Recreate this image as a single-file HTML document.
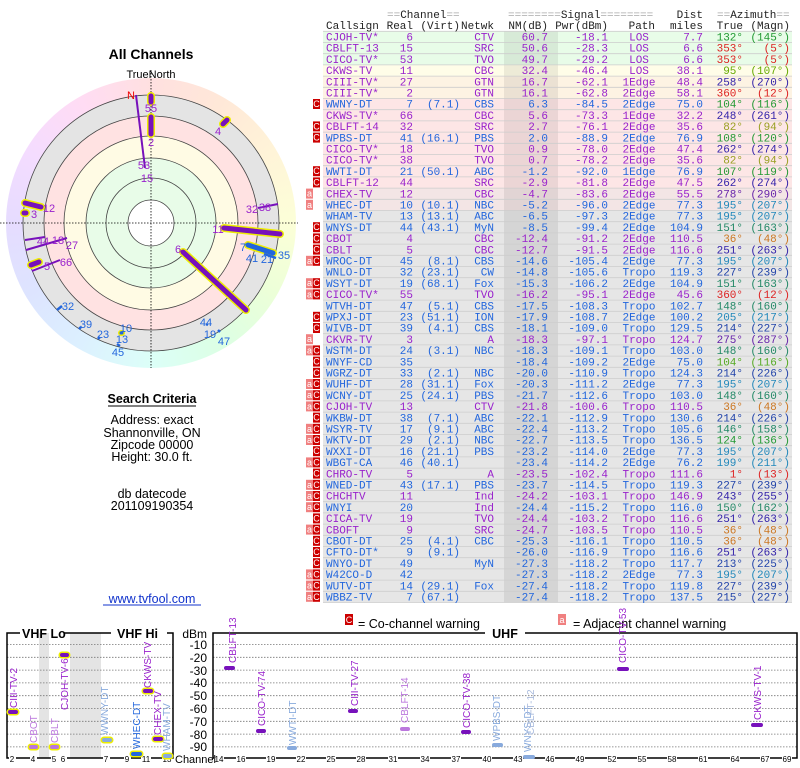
<!DOCTYPE html>
<html><head><meta charset="utf-8"><style>
html,body{margin:0;padding:0;background:#fff;width:800px;height:768px;overflow:hidden}
#ring{position:absolute;left:6px;top:78px;width:290px;height:290px;border-radius:50%;
background:conic-gradient(#ffe0e0 0deg,#ffe8d8 30deg,#fff4d8 60deg,#fcffd8 90deg,#ecffd8 120deg,#dcffe4 150deg,#dcfff8 180deg,#dcf0ff 210deg,#dde4ff 240deg,#e6dcff 270deg,#f4dcff 300deg,#ffdcf4 330deg,#ffe0e0 360deg)}
svg{position:absolute;left:0;top:0}
.t{font-family:"Liberation Mono",monospace;font-size:11px}
.e{text-anchor:end}.m{text-anchor:middle}
.p{fill:#9922cc}.b{fill:#2266dd}
.g{fill:#229933}.r{fill:#dd2222}.o{fill:#66aa00}.ol{fill:#99a022}.v{fill:#3322aa}.vp{fill:#6622aa}.bl{fill:#2288bb}.tg{fill:#228866}.or{fill:#cc7722}.db{fill:#2244aa}.lg{fill:#55aa22}
.s{font-family:"Liberation Sans",sans-serif}
.bd{fill:#fff;font-family:"Liberation Sans",sans-serif;font-size:9px;text-anchor:middle}
.vl{font-family:"Liberation Sans",sans-serif;font-size:10px}
</style></head><body>
<div id="ring"></div>
<svg width="800" height="768" viewBox="0 0 800 768">
<!-- polar -->
<circle cx="151" cy="223" r="128" fill="#e4e4e4"/>
<circle cx="151" cy="223" r="107" fill="#ffe2e2"/>
<circle cx="151" cy="223" r="87" fill="#fffbe4"/>
<circle cx="151" cy="223" r="65" fill="#e8fce8"/>
<circle cx="151" cy="223" r="23" fill="#fff"/>
<g fill="none" stroke="#444" stroke-width="0.8">
<circle cx="151" cy="223" r="23"/><circle cx="151" cy="223" r="45"/><circle cx="151" cy="223" r="65"/><circle cx="151" cy="223" r="87"/><circle cx="151" cy="223" r="107"/><circle cx="151" cy="223" r="128"/>
</g>
<line x1="0" y1="223" x2="298" y2="223" stroke="#000" stroke-width="0.8" stroke-dasharray="1.5,1.5"/>
<line x1="151" y1="70" x2="151" y2="368" stroke="#000" stroke-width="0.8" stroke-dasharray="1.5,1.5"/>
<text x="151" y="78" class="s m" font-size="11">TrueNorth</text>
<text x="151" y="59" class="s m" font-size="14" font-weight="bold">All Channels</text>
<g stroke-linecap="round">
<line x1="183" y1="252" x2="246" y2="310" stroke="#ee0" stroke-width="8"/><line x1="183" y1="252" x2="246" y2="310" stroke="#7711bb" stroke-width="5"/>
<line x1="224" y1="228" x2="280" y2="234" stroke="#ee0" stroke-width="8"/><line x1="224" y1="228" x2="280" y2="234" stroke="#7711bb" stroke-width="5"/>
<line x1="151" y1="96" x2="151" y2="102" stroke="#ee0" stroke-width="8"/><line x1="151" y1="96" x2="151" y2="102" stroke="#7711bb" stroke-width="5"/>
<line x1="151" y1="117" x2="151" y2="134" stroke="#ee0" stroke-width="8"/><line x1="151" y1="117" x2="151" y2="134" stroke="#7711bb" stroke-width="5"/>
<line x1="223" y1="124" x2="227" y2="120" stroke="#ee0" stroke-width="8"/><line x1="223" y1="124" x2="227" y2="120" stroke="#7711bb" stroke-width="5"/>
<line x1="25" y1="203" x2="41" y2="207" stroke="#ee0" stroke-width="8"/><line x1="25" y1="203" x2="41" y2="207" stroke="#7711bb" stroke-width="5"/>
<line x1="24" y1="213" x2="26" y2="213" stroke="#ee0" stroke-width="8"/><line x1="24" y1="213" x2="26" y2="213" stroke="#7711bb" stroke-width="5"/>
<line x1="31" y1="265" x2="39" y2="262" stroke="#ee0" stroke-width="8"/><line x1="31" y1="265" x2="39" y2="262" stroke="#7711bb" stroke-width="5"/>
<line x1="248" y1="245" x2="273" y2="253" stroke="#ee0" stroke-width="8"/><line x1="248" y1="245" x2="273" y2="253" stroke="#2266dd" stroke-width="5"/>
<line x1="121" y1="333" x2="122" y2="333" stroke="#ee0" stroke-width="6"/><line x1="121" y1="333" x2="122" y2="333" stroke="#2266dd" stroke-width="3"/>
</g>
<g stroke="#7711bb" stroke-width="2">
<line x1="136" y1="95" x2="145" y2="168"/>
<line x1="258" y1="208" x2="278" y2="204"/>
<line x1="25" y1="240" x2="45" y2="237"/>
<line x1="26" y1="250" x2="67" y2="238"/>
<line x1="32" y1="271" x2="60" y2="260"/>
</g>
<g stroke="#2266dd" stroke-width="2.5">
<line x1="57" y1="310" x2="62" y2="306"/><line x1="79" y1="329" x2="81" y2="327"/><line x1="98" y1="339" x2="100" y2="337"/>
<line x1="117" y1="344" x2="120" y2="346"/><line x1="206" y1="324" x2="208" y2="325"/><line x1="218" y1="330" x2="220" y2="332"/>
<line x1="264" y1="254" x2="276" y2="258"/>
</g>
<g class="s" font-size="11">
<text x="127" y="99" fill="#e00">N</text>
<g class="p m"><text x="151" y="112">55</text><text x="151" y="146">2</text><text x="144" y="169">53</text><text x="147" y="182">15</text><text x="218" y="135">4</text>
<text x="49" y="212">12</text><text x="34" y="218">3</text><text x="252" y="213">32</text><text x="265" y="211">38</text><text x="218" y="233">11</text><text x="178" y="253">6</text>
<text x="43" y="245">44</text><text x="58" y="244">18</text><text x="72" y="249">27</text><text x="47" y="270">5</text><text x="66" y="266">66</text></g>
<g class="b m"><text x="243" y="251">7</text><text x="252" y="262">41</text><text x="267" y="263">21</text><text x="284" y="259">35</text>
<text x="68" y="310">32</text><text x="86" y="328">39</text><text x="103" y="338">23</text><text x="126" y="332">10</text><text x="122" y="343">13</text><text x="118" y="356">45</text>
<text x="206" y="326">44</text><text x="210" y="338">19</text><text x="224" y="345">47</text></g>
</g>
<!-- search criteria -->
<g class="s m" font-size="12.5">
<text x="152" y="403" font-weight="bold">Search Criteria</text>
<line x1="108" y1="406" x2="196" y2="406" stroke="#000" stroke-width="1"/>
<text x="152" y="424">Address: exact</text><text x="152" y="437">Shannonville, ON</text><text x="152" y="449">Zipcode 00000</text><text x="152" y="461">Height: 30.0 ft.</text>
<text x="152" y="498">db datecode</text><text x="152" y="510">201109190354</text>
<text x="152" y="603" fill="#1133cc">www.tvfool.com</text>
<line x1="103" y1="605" x2="201" y2="605" stroke="#1133cc" stroke-width="1"/>
</g>
<!-- table backgrounds -->
<rect x="323" y="31.3" width="469" height="33.6" fill="#e8fce8"/>
<rect x="323" y="64.9" width="469" height="11.2" fill="#fffde8"/>
<rect x="323" y="76.1" width="469" height="22.4" fill="#fdf3e3"/>
<rect x="323" y="98.5" width="469" height="89.6" fill="#fde6e6"/>
<rect x="323" y="188.1" width="469" height="22.4" fill="#f3e5e5"/>
<rect x="323" y="210.5" width="469" height="392" fill="#e6e6e6"/>
<rect x="504" y="31.3" width="54" height="571.2" fill="#000" fill-opacity="0.07"/>
<g stroke="#cdcdcd" stroke-width="0.8">
<line x1="323" x2="792" y1="31.3" y2="31.3"/><line x1="323" x2="792" y1="42.5" y2="42.5"/><line x1="323" x2="792" y1="53.7" y2="53.7"/><line x1="323" x2="792" y1="64.9" y2="64.9"/><line x1="323" x2="792" y1="76.1" y2="76.1"/><line x1="323" x2="792" y1="87.3" y2="87.3"/><line x1="323" x2="792" y1="98.5" y2="98.5"/><line x1="323" x2="792" y1="109.7" y2="109.7"/><line x1="323" x2="792" y1="120.9" y2="120.9"/><line x1="323" x2="792" y1="132.1" y2="132.1"/><line x1="323" x2="792" y1="143.3" y2="143.3"/><line x1="323" x2="792" y1="154.5" y2="154.5"/><line x1="323" x2="792" y1="165.7" y2="165.7"/><line x1="323" x2="792" y1="176.9" y2="176.9"/><line x1="323" x2="792" y1="188.1" y2="188.1"/><line x1="323" x2="792" y1="199.3" y2="199.3"/><line x1="323" x2="792" y1="210.5" y2="210.5"/><line x1="323" x2="792" y1="221.7" y2="221.7"/><line x1="323" x2="792" y1="232.9" y2="232.9"/><line x1="323" x2="792" y1="244.1" y2="244.1"/><line x1="323" x2="792" y1="255.3" y2="255.3"/><line x1="323" x2="792" y1="266.5" y2="266.5"/><line x1="323" x2="792" y1="277.7" y2="277.7"/><line x1="323" x2="792" y1="288.9" y2="288.9"/><line x1="323" x2="792" y1="300.1" y2="300.1"/><line x1="323" x2="792" y1="311.3" y2="311.3"/><line x1="323" x2="792" y1="322.5" y2="322.5"/><line x1="323" x2="792" y1="333.7" y2="333.7"/><line x1="323" x2="792" y1="344.9" y2="344.9"/><line x1="323" x2="792" y1="356.1" y2="356.1"/><line x1="323" x2="792" y1="367.3" y2="367.3"/><line x1="323" x2="792" y1="378.5" y2="378.5"/><line x1="323" x2="792" y1="389.7" y2="389.7"/><line x1="323" x2="792" y1="400.9" y2="400.9"/><line x1="323" x2="792" y1="412.1" y2="412.1"/><line x1="323" x2="792" y1="423.3" y2="423.3"/><line x1="323" x2="792" y1="434.5" y2="434.5"/><line x1="323" x2="792" y1="445.7" y2="445.7"/><line x1="323" x2="792" y1="456.9" y2="456.9"/><line x1="323" x2="792" y1="468.1" y2="468.1"/><line x1="323" x2="792" y1="479.3" y2="479.3"/><line x1="323" x2="792" y1="490.5" y2="490.5"/><line x1="323" x2="792" y1="501.7" y2="501.7"/><line x1="323" x2="792" y1="512.9" y2="512.9"/><line x1="323" x2="792" y1="524.1" y2="524.1"/><line x1="323" x2="792" y1="535.3" y2="535.3"/><line x1="323" x2="792" y1="546.5" y2="546.5"/><line x1="323" x2="792" y1="557.7" y2="557.7"/><line x1="323" x2="792" y1="568.9" y2="568.9"/><line x1="323" x2="792" y1="580.1" y2="580.1"/><line x1="323" x2="792" y1="591.3" y2="591.3"/><line x1="323" x2="792" y1="602.5" y2="602.5"/>
</g>
<!-- badges -->
<g fill="#cc0000">
<rect x="313" y="99" width="7" height="10"/><rect x="313" y="121.4" width="7" height="10"/><rect x="313" y="132.6" width="7" height="10"/><rect x="313" y="166.2" width="7" height="10"/><rect x="313" y="177.4" width="7" height="10"/>
<rect x="313" y="222.2" width="7" height="10"/><rect x="313" y="233.4" width="7" height="10"/><rect x="313" y="244.6" width="7" height="10"/><rect x="313" y="255.8" width="7" height="10"/>
<rect x="313" y="278.2" width="7" height="10"/><rect x="313" y="289.4" width="7" height="10"/><rect x="313" y="311.8" width="7" height="10"/><rect x="313" y="323" width="7" height="10"/>
<rect x="313" y="345.4" width="7" height="10"/><rect x="313" y="356.6" width="7" height="10"/><rect x="313" y="367.8" width="7" height="10"/><rect x="313" y="379" width="7" height="10"/><rect x="313" y="390.2" width="7" height="10"/><rect x="313" y="401.4" width="7" height="10"/><rect x="313" y="412.6" width="7" height="10"/><rect x="313" y="423.8" width="7" height="10"/><rect x="313" y="435" width="7" height="10"/><rect x="313" y="446.2" width="7" height="10"/><rect x="313" y="457.4" width="7" height="10"/><rect x="313" y="468.6" width="7" height="10"/><rect x="313" y="479.8" width="7" height="10"/><rect x="313" y="491" width="7" height="10"/><rect x="313" y="502.2" width="7" height="10"/><rect x="313" y="513.4" width="7" height="10"/><rect x="313" y="524.6" width="7" height="10"/><rect x="313" y="535.8" width="7" height="10"/><rect x="313" y="547" width="7" height="10"/><rect x="313" y="558.2" width="7" height="10"/><rect x="313" y="569.4" width="7" height="10"/><rect x="313" y="580.6" width="7" height="10"/><rect x="313" y="591.8" width="7" height="10"/>
</g>
<g fill="#f08080">
<rect x="306" y="188.6" width="7" height="10"/><rect x="306" y="199.8" width="7" height="10"/><rect x="306" y="255.8" width="7" height="10"/><rect x="306" y="278.2" width="7" height="10"/><rect x="306" y="289.4" width="7" height="10"/><rect x="306" y="334.2" width="7" height="10"/><rect x="306" y="345.4" width="7" height="10"/><rect x="306" y="379" width="7" height="10"/><rect x="306" y="390.2" width="7" height="10"/><rect x="306" y="401.4" width="7" height="10"/><rect x="306" y="423.8" width="7" height="10"/><rect x="306" y="435" width="7" height="10"/><rect x="306" y="457.4" width="7" height="10"/><rect x="306" y="479.8" width="7" height="10"/><rect x="306" y="491" width="7" height="10"/><rect x="306" y="502.2" width="7" height="10"/><rect x="306" y="524.6" width="7" height="10"/><rect x="306" y="580.6" width="7" height="10"/><rect x="306" y="591.8" width="7" height="10"/>
<rect x="306" y="569.4" width="7" height="10"/>
</g>
<!-- header -->
<g class="t" fill="#222">
<text x="387" y="18"><tspan fill="#aaa">==</tspan>Channel<tspan fill="#aaa">==</tspan></text>
<text x="508" y="18"><tspan fill="#aaa">========</tspan>Signal<tspan fill="#aaa">========</tspan></text>
<text x="703" y="18" class="e">Dist</text>
<text x="717" y="18"><tspan fill="#aaa">==</tspan>Azimuth<tspan fill="#aaa">==</tspan></text>
<text x="326" y="29">Callsign</text><text x="413" y="29" class="e">Real</text><text x="460" y="29" class="e">(Virt)</text><text x="494" y="29" class="e">Netwk</text><text x="548" y="29" class="e">NM(dB)</text><text x="608" y="29" class="e">Pwr(dBm)</text><text x="655" y="29" class="e">Path</text><text x="703" y="29" class="e">miles</text><text x="743" y="29" class="e">True</text><text x="790" y="29" class="e">(Magn)</text>
</g>
<!-- rows -->
<g class="t">
<g class="p"><text x="326" y="40.5">CJOH-TV*</text><text x="413" y="40.5" class="e">6</text><text x="494" y="40.5" class="e">CTV</text><text x="548" y="40.5" class="e">60.7</text><text x="608" y="40.5" class="e">-18.1</text><text x="639" y="40.5" class="m">LOS</text><text x="703" y="40.5" class="e">7.7</text></g><text x="743" y="40.5" class="e g">132°</text><text x="790" y="40.5" class="e g">(145°)</text>
<g class="p"><text x="326" y="51.7">CBLFT-13</text><text x="413" y="51.7" class="e">15</text><text x="494" y="51.7" class="e">SRC</text><text x="548" y="51.7" class="e">50.6</text><text x="608" y="51.7" class="e">-28.3</text><text x="639" y="51.7" class="m">LOS</text><text x="703" y="51.7" class="e">6.6</text></g><text x="743" y="51.7" class="e r">353°</text><text x="790" y="51.7" class="e r">(5°)</text>
<g class="p"><text x="326" y="62.9">CICO-TV*</text><text x="413" y="62.9" class="e">53</text><text x="494" y="62.9" class="e">TVO</text><text x="548" y="62.9" class="e">49.7</text><text x="608" y="62.9" class="e">-29.2</text><text x="639" y="62.9" class="m">LOS</text><text x="703" y="62.9" class="e">6.6</text></g><text x="743" y="62.9" class="e r">353°</text><text x="790" y="62.9" class="e r">(5°)</text>
<g class="p"><text x="326" y="74.1">CKWS-TV</text><text x="413" y="74.1" class="e">11</text><text x="494" y="74.1" class="e">CBC</text><text x="548" y="74.1" class="e">32.4</text><text x="608" y="74.1" class="e">-46.4</text><text x="639" y="74.1" class="m">LOS</text><text x="703" y="74.1" class="e">38.1</text></g><text x="743" y="74.1" class="e o">95°</text><text x="790" y="74.1" class="e o">(107°)</text>
<g class="p"><text x="326" y="85.3">CIII-TV*</text><text x="413" y="85.3" class="e">27</text><text x="494" y="85.3" class="e">GTN</text><text x="548" y="85.3" class="e">16.7</text><text x="608" y="85.3" class="e">-62.1</text><text x="639" y="85.3" class="m">1Edge</text><text x="703" y="85.3" class="e">48.4</text></g><text x="743" y="85.3" class="e v">258°</text><text x="790" y="85.3" class="e v">(270°)</text>
<g class="p"><text x="326" y="96.5">CIII-TV*</text><text x="413" y="96.5" class="e">2</text><text x="494" y="96.5" class="e">GTN</text><text x="548" y="96.5" class="e">16.1</text><text x="608" y="96.5" class="e">-62.8</text><text x="639" y="96.5" class="m">2Edge</text><text x="703" y="96.5" class="e">58.1</text></g><text x="743" y="96.5" class="e r">360°</text><text x="790" y="96.5" class="e r">(12°)</text>
<g class="b"><text x="326" y="107.7">WWNY-DT</text><text x="413" y="107.7" class="e">7</text><text x="460" y="107.7" class="e">(7.1)</text><text x="494" y="107.7" class="e">CBS</text><text x="548" y="107.7" class="e">6.3</text><text x="608" y="107.7" class="e">-84.5</text><text x="639" y="107.7" class="m">2Edge</text><text x="703" y="107.7" class="e">75.0</text></g><text x="743" y="107.7" class="e g">104°</text><text x="790" y="107.7" class="e g">(116°)</text>
<g class="p"><text x="326" y="118.9">CKWS-TV*</text><text x="413" y="118.9" class="e">66</text><text x="494" y="118.9" class="e">CBC</text><text x="548" y="118.9" class="e">5.6</text><text x="608" y="118.9" class="e">-73.3</text><text x="639" y="118.9" class="m">1Edge</text><text x="703" y="118.9" class="e">32.2</text></g><text x="743" y="118.9" class="e v">248°</text><text x="790" y="118.9" class="e v">(261°)</text>
<g class="p"><text x="326" y="130.1">CBLFT-14</text><text x="413" y="130.1" class="e">32</text><text x="494" y="130.1" class="e">SRC</text><text x="548" y="130.1" class="e">2.7</text><text x="608" y="130.1" class="e">-76.1</text><text x="639" y="130.1" class="m">2Edge</text><text x="703" y="130.1" class="e">35.6</text></g><text x="743" y="130.1" class="e ol">82°</text><text x="790" y="130.1" class="e ol">(94°)</text>
<g class="b"><text x="326" y="141.3">WPBS-DT</text><text x="413" y="141.3" class="e">41</text><text x="460" y="141.3" class="e">(16.1)</text><text x="494" y="141.3" class="e">PBS</text><text x="548" y="141.3" class="e">2.0</text><text x="608" y="141.3" class="e">-88.9</text><text x="639" y="141.3" class="m">2Edge</text><text x="703" y="141.3" class="e">76.9</text></g><text x="743" y="141.3" class="e g">108°</text><text x="790" y="141.3" class="e g">(120°)</text>
<g class="p"><text x="326" y="152.5">CICO-TV*</text><text x="413" y="152.5" class="e">18</text><text x="494" y="152.5" class="e">TVO</text><text x="548" y="152.5" class="e">0.9</text><text x="608" y="152.5" class="e">-78.0</text><text x="639" y="152.5" class="m">2Edge</text><text x="703" y="152.5" class="e">47.4</text></g><text x="743" y="152.5" class="e v">262°</text><text x="790" y="152.5" class="e v">(274°)</text>
<g class="p"><text x="326" y="163.7">CICO-TV*</text><text x="413" y="163.7" class="e">38</text><text x="494" y="163.7" class="e">TVO</text><text x="548" y="163.7" class="e">0.7</text><text x="608" y="163.7" class="e">-78.2</text><text x="639" y="163.7" class="m">2Edge</text><text x="703" y="163.7" class="e">35.6</text></g><text x="743" y="163.7" class="e ol">82°</text><text x="790" y="163.7" class="e ol">(94°)</text>
<g class="b"><text x="326" y="174.9">WWTI-DT</text><text x="413" y="174.9" class="e">21</text><text x="460" y="174.9" class="e">(50.1)</text><text x="494" y="174.9" class="e">ABC</text><text x="548" y="174.9" class="e">-1.2</text><text x="608" y="174.9" class="e">-92.0</text><text x="639" y="174.9" class="m">1Edge</text><text x="703" y="174.9" class="e">76.9</text></g><text x="743" y="174.9" class="e g">107°</text><text x="790" y="174.9" class="e g">(119°)</text>
<g class="p"><text x="326" y="186.1">CBLFT-12</text><text x="413" y="186.1" class="e">44</text><text x="494" y="186.1" class="e">SRC</text><text x="548" y="186.1" class="e">-2.9</text><text x="608" y="186.1" class="e">-81.8</text><text x="639" y="186.1" class="m">2Edge</text><text x="703" y="186.1" class="e">47.5</text></g><text x="743" y="186.1" class="e v">262°</text><text x="790" y="186.1" class="e v">(274°)</text>
<g class="p"><text x="326" y="197.3">CHEX-TV</text><text x="413" y="197.3" class="e">12</text><text x="494" y="197.3" class="e">CBC</text><text x="548" y="197.3" class="e">-4.7</text><text x="608" y="197.3" class="e">-83.6</text><text x="639" y="197.3" class="m">2Edge</text><text x="703" y="197.3" class="e">55.5</text></g><text x="743" y="197.3" class="e vp">278°</text><text x="790" y="197.3" class="e vp">(290°)</text>
<g class="b"><text x="326" y="208.5">WHEC-DT</text><text x="413" y="208.5" class="e">10</text><text x="460" y="208.5" class="e">(10.1)</text><text x="494" y="208.5" class="e">NBC</text><text x="548" y="208.5" class="e">-5.2</text><text x="608" y="208.5" class="e">-96.0</text><text x="639" y="208.5" class="m">2Edge</text><text x="703" y="208.5" class="e">77.3</text></g><text x="743" y="208.5" class="e bl">195°</text><text x="790" y="208.5" class="e bl">(207°)</text>
<g class="b"><text x="326" y="219.7">WHAM-TV</text><text x="413" y="219.7" class="e">13</text><text x="460" y="219.7" class="e">(13.1)</text><text x="494" y="219.7" class="e">ABC</text><text x="548" y="219.7" class="e">-6.5</text><text x="608" y="219.7" class="e">-97.3</text><text x="639" y="219.7" class="m">2Edge</text><text x="703" y="219.7" class="e">77.3</text></g><text x="743" y="219.7" class="e bl">195°</text><text x="790" y="219.7" class="e bl">(207°)</text>
<g class="b"><text x="326" y="230.9">WNYS-DT</text><text x="413" y="230.9" class="e">44</text><text x="460" y="230.9" class="e">(43.1)</text><text x="494" y="230.9" class="e">MyN</text><text x="548" y="230.9" class="e">-8.5</text><text x="608" y="230.9" class="e">-99.4</text><text x="639" y="230.9" class="m">2Edge</text><text x="703" y="230.9" class="e">104.9</text></g><text x="743" y="230.9" class="e tg">151°</text><text x="790" y="230.9" class="e tg">(163°)</text>
<g class="p"><text x="326" y="242.1">CBOT</text><text x="413" y="242.1" class="e">4</text><text x="494" y="242.1" class="e">CBC</text><text x="548" y="242.1" class="e">-12.4</text><text x="608" y="242.1" class="e">-91.2</text><text x="639" y="242.1" class="m">2Edge</text><text x="703" y="242.1" class="e">110.5</text></g><text x="743" y="242.1" class="e or">36°</text><text x="790" y="242.1" class="e or">(48°)</text>
<g class="p"><text x="326" y="253.3">CBLT</text><text x="413" y="253.3" class="e">5</text><text x="494" y="253.3" class="e">CBC</text><text x="548" y="253.3" class="e">-12.7</text><text x="608" y="253.3" class="e">-91.5</text><text x="639" y="253.3" class="m">2Edge</text><text x="703" y="253.3" class="e">116.6</text></g><text x="743" y="253.3" class="e v">251°</text><text x="790" y="253.3" class="e v">(263°)</text>
<g class="b"><text x="326" y="264.5">WROC-DT</text><text x="413" y="264.5" class="e">45</text><text x="460" y="264.5" class="e">(8.1)</text><text x="494" y="264.5" class="e">CBS</text><text x="548" y="264.5" class="e">-14.6</text><text x="608" y="264.5" class="e">-105.4</text><text x="639" y="264.5" class="m">2Edge</text><text x="703" y="264.5" class="e">77.3</text></g><text x="743" y="264.5" class="e bl">195°</text><text x="790" y="264.5" class="e bl">(207°)</text>
<g class="b"><text x="326" y="275.7">WNLO-DT</text><text x="413" y="275.7" class="e">32</text><text x="460" y="275.7" class="e">(23.1)</text><text x="494" y="275.7" class="e">CW</text><text x="548" y="275.7" class="e">-14.8</text><text x="608" y="275.7" class="e">-105.6</text><text x="639" y="275.7" class="m">Tropo</text><text x="703" y="275.7" class="e">119.3</text></g><text x="743" y="275.7" class="e db">227°</text><text x="790" y="275.7" class="e db">(239°)</text>
<g class="b"><text x="326" y="286.9">WSYT-DT</text><text x="413" y="286.9" class="e">19</text><text x="460" y="286.9" class="e">(68.1)</text><text x="494" y="286.9" class="e">Fox</text><text x="548" y="286.9" class="e">-15.3</text><text x="608" y="286.9" class="e">-106.2</text><text x="639" y="286.9" class="m">2Edge</text><text x="703" y="286.9" class="e">104.9</text></g><text x="743" y="286.9" class="e tg">151°</text><text x="790" y="286.9" class="e tg">(163°)</text>
<g class="p"><text x="326" y="298.1">CICO-TV*</text><text x="413" y="298.1" class="e">55</text><text x="494" y="298.1" class="e">TVO</text><text x="548" y="298.1" class="e">-16.2</text><text x="608" y="298.1" class="e">-95.1</text><text x="639" y="298.1" class="m">2Edge</text><text x="703" y="298.1" class="e">45.6</text></g><text x="743" y="298.1" class="e r">360°</text><text x="790" y="298.1" class="e r">(12°)</text>
<g class="b"><text x="326" y="309.3">WTVH-DT</text><text x="413" y="309.3" class="e">47</text><text x="460" y="309.3" class="e">(5.1)</text><text x="494" y="309.3" class="e">CBS</text><text x="548" y="309.3" class="e">-17.5</text><text x="608" y="309.3" class="e">-108.3</text><text x="639" y="309.3" class="m">Tropo</text><text x="703" y="309.3" class="e">102.7</text></g><text x="743" y="309.3" class="e tg">148°</text><text x="790" y="309.3" class="e tg">(160°)</text>
<g class="b"><text x="326" y="320.5">WPXJ-DT</text><text x="413" y="320.5" class="e">23</text><text x="460" y="320.5" class="e">(51.1)</text><text x="494" y="320.5" class="e">ION</text><text x="548" y="320.5" class="e">-17.9</text><text x="608" y="320.5" class="e">-108.7</text><text x="639" y="320.5" class="m">2Edge</text><text x="703" y="320.5" class="e">100.2</text></g><text x="743" y="320.5" class="e bl">205°</text><text x="790" y="320.5" class="e bl">(217°)</text>
<g class="b"><text x="326" y="331.7">WIVB-DT</text><text x="413" y="331.7" class="e">39</text><text x="460" y="331.7" class="e">(4.1)</text><text x="494" y="331.7" class="e">CBS</text><text x="548" y="331.7" class="e">-18.1</text><text x="608" y="331.7" class="e">-109.0</text><text x="639" y="331.7" class="m">Tropo</text><text x="703" y="331.7" class="e">129.5</text></g><text x="743" y="331.7" class="e db">214°</text><text x="790" y="331.7" class="e db">(227°)</text>
<g class="p"><text x="326" y="342.9">CKVR-TV</text><text x="413" y="342.9" class="e">3</text><text x="494" y="342.9" class="e">A</text><text x="548" y="342.9" class="e">-18.3</text><text x="608" y="342.9" class="e">-97.1</text><text x="639" y="342.9" class="m">Tropo</text><text x="703" y="342.9" class="e">124.7</text></g><text x="743" y="342.9" class="e vp">275°</text><text x="790" y="342.9" class="e vp">(287°)</text>
<g class="b"><text x="326" y="354.1">WSTM-DT</text><text x="413" y="354.1" class="e">24</text><text x="460" y="354.1" class="e">(3.1)</text><text x="494" y="354.1" class="e">NBC</text><text x="548" y="354.1" class="e">-18.3</text><text x="608" y="354.1" class="e">-109.1</text><text x="639" y="354.1" class="m">Tropo</text><text x="703" y="354.1" class="e">103.0</text></g><text x="743" y="354.1" class="e tg">148°</text><text x="790" y="354.1" class="e tg">(160°)</text>
<g class="b"><text x="326" y="365.3">WNYF-CD</text><text x="413" y="365.3" class="e">35</text><text x="548" y="365.3" class="e">-18.4</text><text x="608" y="365.3" class="e">-109.2</text><text x="639" y="365.3" class="m">2Edge</text><text x="703" y="365.3" class="e">75.0</text></g><text x="743" y="365.3" class="e lg">104°</text><text x="790" y="365.3" class="e lg">(116°)</text>
<g class="b"><text x="326" y="376.5">WGRZ-DT</text><text x="413" y="376.5" class="e">33</text><text x="460" y="376.5" class="e">(2.1)</text><text x="494" y="376.5" class="e">NBC</text><text x="548" y="376.5" class="e">-20.0</text><text x="608" y="376.5" class="e">-110.9</text><text x="639" y="376.5" class="m">Tropo</text><text x="703" y="376.5" class="e">124.3</text></g><text x="743" y="376.5" class="e db">214°</text><text x="790" y="376.5" class="e db">(226°)</text>
<g class="b"><text x="326" y="387.7">WUHF-DT</text><text x="413" y="387.7" class="e">28</text><text x="460" y="387.7" class="e">(31.1)</text><text x="494" y="387.7" class="e">Fox</text><text x="548" y="387.7" class="e">-20.3</text><text x="608" y="387.7" class="e">-111.2</text><text x="639" y="387.7" class="m">2Edge</text><text x="703" y="387.7" class="e">77.3</text></g><text x="743" y="387.7" class="e bl">195°</text><text x="790" y="387.7" class="e bl">(207°)</text>
<g class="b"><text x="326" y="398.9">WCNY-DT</text><text x="413" y="398.9" class="e">25</text><text x="460" y="398.9" class="e">(24.1)</text><text x="494" y="398.9" class="e">PBS</text><text x="548" y="398.9" class="e">-21.7</text><text x="608" y="398.9" class="e">-112.6</text><text x="639" y="398.9" class="m">Tropo</text><text x="703" y="398.9" class="e">103.0</text></g><text x="743" y="398.9" class="e tg">148°</text><text x="790" y="398.9" class="e tg">(160°)</text>
<g class="p"><text x="326" y="410.1">CJOH-TV</text><text x="413" y="410.1" class="e">13</text><text x="494" y="410.1" class="e">CTV</text><text x="548" y="410.1" class="e">-21.8</text><text x="608" y="410.1" class="e">-100.6</text><text x="639" y="410.1" class="m">Tropo</text><text x="703" y="410.1" class="e">110.5</text></g><text x="743" y="410.1" class="e or">36°</text><text x="790" y="410.1" class="e or">(48°)</text>
<g class="b"><text x="326" y="421.3">WKBW-DT</text><text x="413" y="421.3" class="e">38</text><text x="460" y="421.3" class="e">(7.1)</text><text x="494" y="421.3" class="e">ABC</text><text x="548" y="421.3" class="e">-22.1</text><text x="608" y="421.3" class="e">-112.9</text><text x="639" y="421.3" class="m">Tropo</text><text x="703" y="421.3" class="e">130.6</text></g><text x="743" y="421.3" class="e db">214°</text><text x="790" y="421.3" class="e db">(226°)</text>
<g class="b"><text x="326" y="432.5">WSYR-TV</text><text x="413" y="432.5" class="e">17</text><text x="460" y="432.5" class="e">(9.1)</text><text x="494" y="432.5" class="e">ABC</text><text x="548" y="432.5" class="e">-22.4</text><text x="608" y="432.5" class="e">-113.2</text><text x="639" y="432.5" class="m">Tropo</text><text x="703" y="432.5" class="e">105.6</text></g><text x="743" y="432.5" class="e tg">146°</text><text x="790" y="432.5" class="e tg">(158°)</text>
<g class="b"><text x="326" y="443.7">WKTV-DT</text><text x="413" y="443.7" class="e">29</text><text x="460" y="443.7" class="e">(2.1)</text><text x="494" y="443.7" class="e">NBC</text><text x="548" y="443.7" class="e">-22.7</text><text x="608" y="443.7" class="e">-113.5</text><text x="639" y="443.7" class="m">Tropo</text><text x="703" y="443.7" class="e">136.5</text></g><text x="743" y="443.7" class="e g">124°</text><text x="790" y="443.7" class="e g">(136°)</text>
<g class="b"><text x="326" y="454.9">WXXI-DT</text><text x="413" y="454.9" class="e">16</text><text x="460" y="454.9" class="e">(21.1)</text><text x="494" y="454.9" class="e">PBS</text><text x="548" y="454.9" class="e">-23.2</text><text x="608" y="454.9" class="e">-114.0</text><text x="639" y="454.9" class="m">2Edge</text><text x="703" y="454.9" class="e">77.3</text></g><text x="743" y="454.9" class="e bl">195°</text><text x="790" y="454.9" class="e bl">(207°)</text>
<g class="b"><text x="326" y="466.1">WBGT-CA</text><text x="413" y="466.1" class="e">46</text><text x="460" y="466.1" class="e">(40.1)</text><text x="548" y="466.1" class="e">-23.4</text><text x="608" y="466.1" class="e">-114.2</text><text x="639" y="466.1" class="m">2Edge</text><text x="703" y="466.1" class="e">76.2</text></g><text x="743" y="466.1" class="e bl">199°</text><text x="790" y="466.1" class="e bl">(211°)</text>
<g class="p"><text x="326" y="477.3">CHRO-TV</text><text x="413" y="477.3" class="e">5</text><text x="494" y="477.3" class="e">A</text><text x="548" y="477.3" class="e">-23.5</text><text x="608" y="477.3" class="e">-102.4</text><text x="639" y="477.3" class="m">Tropo</text><text x="703" y="477.3" class="e">111.6</text></g><text x="743" y="477.3" class="e r">1°</text><text x="790" y="477.3" class="e r">(13°)</text>
<g class="b"><text x="326" y="488.5">WNED-DT</text><text x="413" y="488.5" class="e">43</text><text x="460" y="488.5" class="e">(17.1)</text><text x="494" y="488.5" class="e">PBS</text><text x="548" y="488.5" class="e">-23.7</text><text x="608" y="488.5" class="e">-114.5</text><text x="639" y="488.5" class="m">Tropo</text><text x="703" y="488.5" class="e">119.3</text></g><text x="743" y="488.5" class="e db">227°</text><text x="790" y="488.5" class="e db">(239°)</text>
<g class="p"><text x="326" y="499.7">CHCHTV</text><text x="413" y="499.7" class="e">11</text><text x="494" y="499.7" class="e">Ind</text><text x="548" y="499.7" class="e">-24.2</text><text x="608" y="499.7" class="e">-103.1</text><text x="639" y="499.7" class="m">Tropo</text><text x="703" y="499.7" class="e">146.9</text></g><text x="743" y="499.7" class="e v">243°</text><text x="790" y="499.7" class="e v">(255°)</text>
<g class="b"><text x="326" y="510.9">WNYI</text><text x="413" y="510.9" class="e">20</text><text x="494" y="510.9" class="e p">Ind</text><text x="548" y="510.9" class="e">-24.4</text><text x="608" y="510.9" class="e">-115.2</text><text x="639" y="510.9" class="m">Tropo</text><text x="703" y="510.9" class="e">116.0</text></g><text x="743" y="510.9" class="e tg">150°</text><text x="790" y="510.9" class="e tg">(162°)</text>
<g class="p"><text x="326" y="522.1">CICA-TV</text><text x="413" y="522.1" class="e">19</text><text x="494" y="522.1" class="e">TVO</text><text x="548" y="522.1" class="e">-24.4</text><text x="608" y="522.1" class="e">-103.2</text><text x="639" y="522.1" class="m">Tropo</text><text x="703" y="522.1" class="e">116.6</text></g><text x="743" y="522.1" class="e v">251°</text><text x="790" y="522.1" class="e v">(263°)</text>
<g class="p"><text x="326" y="533.3">CBOFT</text><text x="413" y="533.3" class="e">9</text><text x="494" y="533.3" class="e">SRC</text><text x="548" y="533.3" class="e">-24.7</text><text x="608" y="533.3" class="e">-103.5</text><text x="639" y="533.3" class="m">Tropo</text><text x="703" y="533.3" class="e">110.5</text></g><text x="743" y="533.3" class="e or">36°</text><text x="790" y="533.3" class="e or">(48°)</text>
<g class="b"><text x="326" y="544.5">CBOT-DT</text><text x="413" y="544.5" class="e">25</text><text x="460" y="544.5" class="e">(4.1)</text><text x="494" y="544.5" class="e">CBC</text><text x="548" y="544.5" class="e">-25.3</text><text x="608" y="544.5" class="e">-116.1</text><text x="639" y="544.5" class="m">Tropo</text><text x="703" y="544.5" class="e">110.5</text></g><text x="743" y="544.5" class="e or">36°</text><text x="790" y="544.5" class="e or">(48°)</text>
<g class="b"><text x="326" y="555.7">CFTO-DT*</text><text x="413" y="555.7" class="e">9</text><text x="460" y="555.7" class="e">(9.1)</text><text x="548" y="555.7" class="e">-26.0</text><text x="608" y="555.7" class="e">-116.9</text><text x="639" y="555.7" class="m">Tropo</text><text x="703" y="555.7" class="e">116.6</text></g><text x="743" y="555.7" class="e v">251°</text><text x="790" y="555.7" class="e v">(263°)</text>
<g class="b"><text x="326" y="566.9">WNYO-DT</text><text x="413" y="566.9" class="e">49</text><text x="494" y="566.9" class="e">MyN</text><text x="548" y="566.9" class="e">-27.3</text><text x="608" y="566.9" class="e">-118.2</text><text x="639" y="566.9" class="m">Tropo</text><text x="703" y="566.9" class="e">117.7</text></g><text x="743" y="566.9" class="e db">213°</text><text x="790" y="566.9" class="e db">(225°)</text>
<g class="b"><text x="326" y="578.1">W42CO-D</text><text x="413" y="578.1" class="e">42</text><text x="548" y="578.1" class="e">-27.3</text><text x="608" y="578.1" class="e">-118.2</text><text x="639" y="578.1" class="m">2Edge</text><text x="703" y="578.1" class="e">77.3</text></g><text x="743" y="578.1" class="e bl">195°</text><text x="790" y="578.1" class="e bl">(207°)</text>
<g class="b"><text x="326" y="589.3">WUTV-DT</text><text x="413" y="589.3" class="e">14</text><text x="460" y="589.3" class="e">(29.1)</text><text x="494" y="589.3" class="e">Fox</text><text x="548" y="589.3" class="e">-27.4</text><text x="608" y="589.3" class="e">-118.2</text><text x="639" y="589.3" class="m">Tropo</text><text x="703" y="589.3" class="e">119.8</text></g><text x="743" y="589.3" class="e db">227°</text><text x="790" y="589.3" class="e db">(239°)</text>
<g class="b"><text x="326" y="600.5">WBBZ-TV</text><text x="413" y="600.5" class="e">7</text><text x="460" y="600.5" class="e">(67.1)</text><text x="548" y="600.5" class="e">-27.4</text><text x="608" y="600.5" class="e">-118.2</text><text x="639" y="600.5" class="m">Tropo</text><text x="703" y="600.5" class="e">137.5</text></g><text x="743" y="600.5" class="e db">215°</text><text x="790" y="600.5" class="e db">(227°)</text>
</g>
<!-- badge letters -->
<g class="bd">
<text x="316.5" y="107">C</text><text x="316.5" y="129.4">C</text><text x="316.5" y="140.6">C</text><text x="316.5" y="174.2">C</text><text x="316.5" y="185.4">C</text><text x="316.5" y="230.2">C</text><text x="316.5" y="241.4">C</text><text x="316.5" y="252.6">C</text><text x="316.5" y="263.8">C</text><text x="316.5" y="286.2">C</text><text x="316.5" y="297.4">C</text><text x="316.5" y="319.8">C</text><text x="316.5" y="331">C</text><text x="316.5" y="353.4">C</text><text x="316.5" y="364.6">C</text><text x="316.5" y="375.8">C</text><text x="316.5" y="387">C</text><text x="316.5" y="398.2">C</text><text x="316.5" y="409.4">C</text><text x="316.5" y="420.6">C</text><text x="316.5" y="431.8">C</text><text x="316.5" y="443">C</text><text x="316.5" y="454.2">C</text><text x="316.5" y="465.4">C</text><text x="316.5" y="476.6">C</text><text x="316.5" y="487.8">C</text><text x="316.5" y="499">C</text><text x="316.5" y="510.2">C</text><text x="316.5" y="521.4">C</text><text x="316.5" y="532.6">C</text><text x="316.5" y="543.8">C</text><text x="316.5" y="555">C</text><text x="316.5" y="566.2">C</text><text x="316.5" y="577.4">C</text><text x="316.5" y="588.6">C</text><text x="316.5" y="599.8">C</text>
<text x="309.5" y="196.6">a</text><text x="309.5" y="207.8">a</text><text x="309.5" y="263.8">a</text><text x="309.5" y="286.2">a</text><text x="309.5" y="297.4">a</text><text x="309.5" y="342.2">a</text><text x="309.5" y="353.4">a</text><text x="309.5" y="387">a</text><text x="309.5" y="398.2">a</text><text x="309.5" y="409.4">a</text><text x="309.5" y="431.8">a</text><text x="309.5" y="443">a</text><text x="309.5" y="465.4">a</text><text x="309.5" y="487.8">a</text><text x="309.5" y="499">a</text><text x="309.5" y="510.2">a</text><text x="309.5" y="532.6">a</text><text x="309.5" y="577.4">a</text><text x="309.5" y="588.6">a</text><text x="309.5" y="599.8">a</text>
</g>
<!-- legend -->
<rect x="345" y="614" width="8" height="11" fill="#cc0000"/><text x="349" y="623" class="bd">C</text>
<text x="358" y="628" class="s" font-size="12.5">= Co-channel warning</text>
<rect x="558" y="614" width="8" height="11" fill="#f08080"/><text x="562" y="623" class="bd">a</text>
<text x="573" y="628" class="s" font-size="12.5">= Adjacent channel warning</text>
<!-- bottom charts -->
<rect x="39" y="633" width="10" height="125" fill="#e4e4e4"/>
<rect x="70" y="633" width="31" height="125" fill="#e4e4e4"/>
<g stroke="#777" stroke-width="0.8" stroke-dasharray="1.5,1.5">
<line x1="7" x2="173" y1="644.5" y2="644.5"/><line x1="7" x2="173" y1="657.3" y2="657.3"/><line x1="7" x2="173" y1="670.1" y2="670.1"/><line x1="7" x2="173" y1="682.9" y2="682.9"/><line x1="7" x2="173" y1="695.7" y2="695.7"/><line x1="7" x2="173" y1="708.5" y2="708.5"/><line x1="7" x2="173" y1="721.3" y2="721.3"/><line x1="7" x2="173" y1="734.1" y2="734.1"/><line x1="7" x2="173" y1="746.9" y2="746.9"/>
<line x1="213" x2="797" y1="644.5" y2="644.5"/><line x1="213" x2="797" y1="657.3" y2="657.3"/><line x1="213" x2="797" y1="670.1" y2="670.1"/><line x1="213" x2="797" y1="682.9" y2="682.9"/><line x1="213" x2="797" y1="695.7" y2="695.7"/><line x1="213" x2="797" y1="708.5" y2="708.5"/><line x1="213" x2="797" y1="721.3" y2="721.3"/><line x1="213" x2="797" y1="734.1" y2="734.1"/><line x1="213" x2="797" y1="746.9" y2="746.9"/>
</g>
<g stroke="#000" stroke-width="1.5" fill="none">
<polyline points="20,633 7,633 7,758 173,758 173,633 167,633"/>
<line x1="64" y1="633" x2="111" y2="633"/>
<polyline points="485,633 213,633 213,758 797,758 797,633 525,633"/>
</g>
<g class="s" font-size="12.5" font-weight="bold"><text x="22" y="638">VHF Lo</text><text x="117" y="638">VHF Hi</text><text x="505" y="638" class="m">UHF</text></g>
<g class="s e" font-size="12"><text x="207" y="638">dBm</text><text x="207" y="649">-10</text><text x="207" y="662">-20</text><text x="207" y="675">-30</text><text x="207" y="687">-40</text><text x="207" y="700">-50</text><text x="207" y="713">-60</text><text x="207" y="726">-70</text><text x="207" y="739">-80</text><text x="207" y="751">-90</text></g>
<g class="s" font-size="8">
<g fill="#fff"><rect x="9" y="755" width="7" height="8"/><rect x="30" y="755" width="7" height="8"/><rect x="51" y="755" width="16" height="8"/><rect x="103" y="755" width="7" height="8"/><rect x="124" y="755" width="7" height="8"/><rect x="141" y="755" width="10" height="8"/><rect x="162" y="755" width="10" height="8"/><rect x="174" y="754" width="38" height="10"/>
<rect x="214" y="755" width="10" height="8"/><rect x="236" y="755" width="10" height="8"/><rect x="266" y="755" width="10" height="8"/><rect x="296" y="755" width="10" height="8"/><rect x="326" y="755" width="10" height="8"/><rect x="356" y="755" width="10" height="8"/><rect x="388" y="755" width="10" height="8"/><rect x="420" y="755" width="10" height="8"/><rect x="451" y="755" width="10" height="8"/><rect x="482" y="755" width="10" height="8"/><rect x="513" y="755" width="10" height="8"/><rect x="545" y="755" width="10" height="8"/><rect x="575" y="755" width="10" height="8"/><rect x="607" y="755" width="10" height="8"/><rect x="637" y="755" width="10" height="8"/><rect x="667" y="755" width="10" height="8"/><rect x="698" y="755" width="10" height="8"/><rect x="730" y="755" width="10" height="8"/><rect x="760" y="755" width="10" height="8"/><rect x="782" y="755" width="10" height="8"/></g>
<g class="m"><text x="12" y="762">2</text><text x="33" y="762">4</text><text x="54" y="762">5</text><text x="63" y="762">6</text><text x="106" y="762">7</text><text x="127" y="762">9</text><text x="146" y="762">11</text><text x="167" y="762">13</text>
<text x="219" y="762">14</text><text x="241" y="762">16</text><text x="271" y="762">19</text><text x="301" y="762">22</text><text x="331" y="762">25</text><text x="361" y="762">28</text><text x="393" y="762">31</text><text x="425" y="762">34</text><text x="456" y="762">37</text><text x="487" y="762">40</text><text x="518" y="762">43</text><text x="550" y="762">46</text><text x="580" y="762">49</text><text x="612" y="762">52</text><text x="642" y="762">55</text><text x="672" y="762">58</text><text x="703" y="762">61</text><text x="735" y="762">64</text><text x="765" y="762">67</text><text x="787" y="762">69</text></g>
<text x="175" y="763" font-size="11">Channel</text>
</g>
<!-- bars -->
<g stroke-linecap="round">
<g stroke="#ee0" stroke-width="7"><line x1="10" y1="712" x2="16" y2="712"/><line x1="31" y1="747" x2="36" y2="747"/><line x1="52" y1="747" x2="57" y2="747"/><line x1="62" y1="655" x2="67" y2="655"/><line x1="104" y1="740" x2="110" y2="740"/><line x1="133" y1="754" x2="140" y2="754"/><line x1="145" y1="691" x2="151" y2="691"/><line x1="155" y1="739" x2="161" y2="739"/><line x1="165" y1="756" x2="170" y2="756"/></g>
<g stroke-width="4">
<line x1="10" y1="712" x2="16" y2="712" stroke="#7711bb"/><line x1="31" y1="747" x2="36" y2="747" stroke="#bb77dd"/><line x1="52" y1="747" x2="57" y2="747" stroke="#bb77dd"/><line x1="62" y1="655" x2="67" y2="655" stroke="#7711bb"/><line x1="104" y1="740" x2="110" y2="740" stroke="#88aadd"/><line x1="133" y1="754" x2="140" y2="754" stroke="#2266dd"/><line x1="145" y1="691" x2="151" y2="691" stroke="#7711bb"/><line x1="155" y1="739" x2="161" y2="739" stroke="#7711bb"/><line x1="165" y1="756" x2="170" y2="756" stroke="#88aadd"/>
<line x1="226" y1="668" x2="233" y2="668" stroke="#7711bb"/><line x1="258" y1="731" x2="264" y2="731" stroke="#7711bb"/><line x1="289" y1="748" x2="295" y2="748" stroke="#88aadd"/><line x1="350" y1="711" x2="356" y2="711" stroke="#7711bb"/><line x1="402" y1="729" x2="408" y2="729" stroke="#bb77dd"/><line x1="463" y1="732" x2="469" y2="732" stroke="#7711bb"/><line x1="494" y1="745" x2="501" y2="745" stroke="#88aadd"/><line x1="525" y1="757" x2="533" y2="757" stroke="#88aadd"/><line x1="619" y1="669" x2="627" y2="669" stroke="#7711bb"/><line x1="753" y1="725" x2="761" y2="725" stroke="#7711bb"/>
</g>
</g>
<g class="vl">
<text transform="translate(17,708) rotate(-90)" fill="#9922cc">CIII-TV-2</text>
<text transform="translate(37,743) rotate(-90)" fill="#bb77dd">CBOT</text>
<text transform="translate(58,743) rotate(-90)" fill="#bb77dd">CBLT</text>
<text transform="translate(68,710) rotate(-90)" fill="#9922cc">CJOH-TV-6</text>
<text transform="translate(108,735) rotate(-90)" fill="#88aadd">WWNY-DT</text>
<text transform="translate(140,749) rotate(-90)" fill="#2266dd">WHEC-DT</text>
<text transform="translate(151,688) rotate(-90)" fill="#9922cc">CKWS-TV</text>
<text transform="translate(161,735) rotate(-90)" fill="#9922cc">CHEX-TV</text>
<text transform="translate(170,751) rotate(-90)" fill="#88aadd">WHAM-TV</text>
<text transform="translate(236,663) rotate(-90)" fill="#9922cc">CBLFT-13</text>
<text transform="translate(265,726) rotate(-90)" fill="#9922cc">CICO-TV-74</text>
<text transform="translate(296,745) rotate(-90)" fill="#88aadd">WWTI-DT</text>
<text transform="translate(358,706) rotate(-90)" fill="#9922cc">CIII-TV-27</text>
<text transform="translate(408,723) rotate(-90)" fill="#bb77dd">CBLFT-14</text>
<text transform="translate(470,728) rotate(-90)" fill="#9922cc">CICO-TV-38</text>
<text transform="translate(500,741) rotate(-90)" fill="#88aadd">WPBS-DT</text>
<text transform="translate(531,752) rotate(-90)" fill="#88aadd">WNYS-DT</text>
<text transform="translate(534,735) rotate(-90)" fill="#aabbdd">CBLFT-12</text>
<text transform="translate(626,663) rotate(-90)" fill="#9922cc">CICO-TV-53</text>
<text transform="translate(761,720) rotate(-90)" fill="#9922cc">CKWS-TV-1</text>
</g>
</svg>
</body></html>
